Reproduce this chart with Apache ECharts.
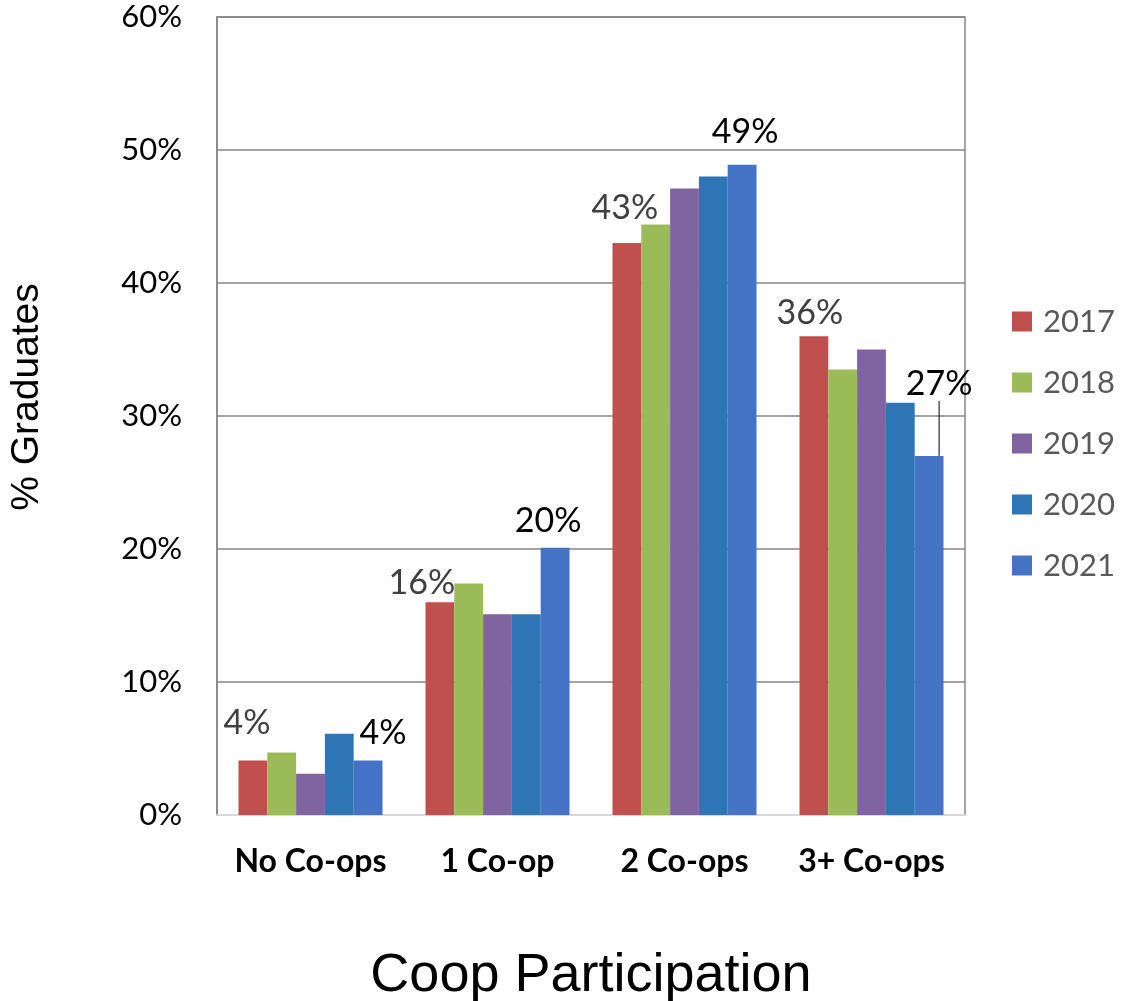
<!DOCTYPE html>
<html>
<head>
<meta charset="utf-8">
<script src="https://cdn.jsdelivr.net/npm/echarts@6/dist/echarts.min.js"></script>
<style>html,body{margin:0;padding:0;background:#fff;}#c{width:1122px;height:1001px;}</style>
</head>
<body>
<div id="c"></div>
<script>
const categories = ['No Co-ops', '1 Co-op', '2 Co-ops', '3+ Co-ops'];
const years = ['2017', '2018', '2019', '2020', '2021'];
const v2017 = [4.1, 16.0, 43.0, 36.0];
const v2018 = [4.7, 17.4, 44.4, 33.5];
const v2019 = [3.1, 15.1, 47.1, 35.0];
const v2020 = [6.1, 15.1, 48.0, 31.0];
const v2021 = [4.1, 20.1, 48.9, 27.0];
const labels2017 = ['4%', '16%', '43%', '36%'];
const labels2021 = ['4%', '20%', '49%', '27%'];
const yTicks = [0, 10, 20, 30, 40, 50, 60];

const colors = ['#C0504D', '#9BBB59', '#8064A2', '#2E75B6', '#4472C4'];
const allVals = [v2017, v2018, v2019, v2020, v2021];

const off2017 = [[-6, -15], [-18, 3], [-2, -13], [-4, -1]];
const move2021 = [[15, -5], [-7, -5], [3, -11], [10, -50]];

const series = years.map((y, si) => {
  const vals = allVals[si];
  const s = {
    name: y,
    type: 'bar',
    barGap: '0%',
    barCategoryGap: '23%',
    itemStyle: { color: colors[si] },
    data: vals.map((v, i) => {
      const d = { value: v };
      if (si === 0) {
        d.label = { show: true, formatter: labels2017[i], color: '#404040', offset: off2017[i] };
      } else if (si === 4) {
        d.label = { show: true, formatter: labels2021[i], color: '#000000' };
        d.labelLine = { show: i === 3, lineStyle: { color: '#000', width: 1 } };
      }
      return d;
    }),
    label: { show: false, position: 'top', fontFamily: 'Lato', fontSize: 34, distance: 5 }
  };
  if (si === 4) {
    s.labelLine = { show: false, lineStyle: { color: '#000', width: 1 } };
    s.labelLayout = function (p) {
      const m = move2021[p.dataIndex];
      return { dx: m[0], dy: m[1] };
    };
  }
  return s;
});

const chart = echarts.init(document.getElementById('c'));
chart.setOption({
  animation: false,
  color: colors,
  grid: { left: 217, right: 157, top: 17, bottom: 186, show: true, borderColor: '#868686', borderWidth: 1.5, outerBoundsMode: 'none', containLabel: false },
  legend: {
    orient: 'vertical',
    left: 1007,
    top: 301,
    itemWidth: 20,
    itemHeight: 20,
    itemGap: 30,
    icon: 'rect',
    textStyle: { fontFamily: 'Lato', fontSize: 31, color: '#595959', padding: [0, 0, 0, 6] },
    data: years
  },
  xAxis: {
    type: 'category',
    data: categories,
    name: 'Coop Participation',
    nameLocation: 'middle',
    nameGap: 134,
    nameTextStyle: { fontFamily: 'Liberation Sans', fontSize: 54, color: '#000' },
    axisLine: { lineStyle: { color: '#D9D9D9', width: 2 } },
    axisTick: { show: false },
    axisLabel: { interval: 0, hideOverlap: false, fontFamily: 'Lato', fontWeight: 'bold', fontSize: 32, color: '#000', margin: 31 }
  },
  yAxis: {
    type: 'value',
    min: 0,
    max: 60,
    interval: 10,
    name: '% Graduates',
    nameLocation: 'middle',
    nameGap: 170,
    nameRotate: 90,
    nameTextStyle: { fontFamily: 'Liberation Sans', fontSize: 39, color: '#000', padding: [0, 0, 0, 38] },
    axisLine: { show: true, lineStyle: { color: '#868686', width: 1.5 } },
    axisTick: { show: false },
    splitLine: { lineStyle: { color: '#868686', width: 1.5 } },
    axisLabel: {
      fontFamily: 'Lato', fontSize: 31, color: '#000', margin: 35,
      formatter: v => (yTicks.indexOf(v) >= 0 ? v + '%' : '')
    }
  },
  series: series
});
</script>
</body>
</html>
